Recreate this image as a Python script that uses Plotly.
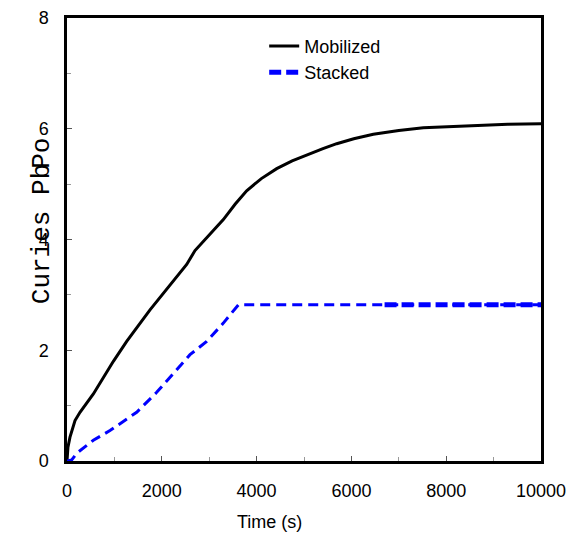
import plotly.graph_objects as go

# Mobilized curve
mob_t = [0, 20, 63, 169, 274, 556, 978, 1259, 1751, 2173, 2525, 2700, 2806, 2876,
         3100, 3298, 3550, 3790, 4100, 4424, 4750, 5056, 5400, 5690, 6050, 6462,
         7000, 7517, 8000, 8572, 9300, 10000]
mob_y = [0, 0.25, 0.43, 0.73, 0.88, 1.21, 1.80, 2.16, 2.73, 3.17, 3.55, 3.80, 3.90, 3.96,
         4.16, 4.36, 4.64, 4.88, 5.10, 5.28, 5.42, 5.53, 5.64, 5.73, 5.82, 5.90,
         5.97, 6.02, 6.04, 6.06, 6.08, 6.09]

# Stacked curve
stk_t = [0, 100, 204, 556, 907, 1470, 1892, 2243, 2595, 2947, 3298, 3615, 10000]
stk_y = [0, 0.02, 0.14, 0.375, 0.55, 0.88, 1.24, 1.57, 1.92, 2.16, 2.49, 2.82, 2.82]

# thicker dashed tail of the stacked curve
tail_t = [6700, 10000]
tail_y = [2.82, 2.82]

fig = go.Figure()

fig.add_trace(go.Scatter(
    x=mob_t, y=mob_y, mode="lines", name="Mobilized",
    line=dict(color="black", width=3),
))
fig.add_trace(go.Scatter(
    x=stk_t, y=stk_y, mode="lines", name="Stacked", showlegend=False,
    legendgroup="stk", line=dict(color="#0000ff", width=3, dash="10px,6px"),
))
fig.add_trace(go.Scatter(
    x=tail_t, y=tail_y, mode="lines", name="Stacked", legendgroup="stk",
    line=dict(color="#0000ff", width=5, dash="12px,5px"),
))

font = "Liberation Sans, Arial, sans-serif"
axis_common = dict(
    showline=True, linecolor="black", linewidth=2.5, mirror=True,
    showgrid=False, zeroline=False, automargin=False,
    ticks="inside", ticklen=5, tickcolor="#555", tickwidth=1,
    ticklabelstandoff=12, tickformat="d", ticklabeloverflow="allow",
    tickfont=dict(family=font, size=18, color="black"),
)

# the page adds an 8px body margin, so the margins are set smaller on left/top
fig.update_layout(
    template="none",
    width=580, height=539,
    margin=dict(l=59, r=47, t=10, b=86),
    paper_bgcolor="white", plot_bgcolor="white",
    xaxis=dict(range=[0, 10000], dtick=2000,
               minor=dict(dtick=1000, ticks="inside", ticklen=4, tickcolor="#999"),
               **axis_common),
    yaxis=dict(range=[0, 8], dtick=2,
               minor=dict(dtick=1, ticks="inside", ticklen=4, tickcolor="#999"),
               **axis_common),
    legend=dict(x=0.416, y=0.978, xanchor="left", yanchor="top",
                bgcolor="rgba(0,0,0,0)", font=dict(family=font, size=18, color="black"),
                tracegroupgap=0),
    showlegend=True,
)

mono = "Liberation Mono, Courier New, monospace"
fig.add_annotation(text="Time (s)", xref="paper", yref="paper", x=0.428, y=-0.164,
                   showarrow=False, font=dict(family=font, size=18, color="black"))
fig.add_annotation(text="Curies Pb", xref="paper", yref="paper", x=-0.0886, y=0.512,
                   textangle=-90, showarrow=False,
                   font=dict(family=mono, size=26, color="black"))
fig.add_annotation(text="Po", xref="paper", yref="paper", x=-0.0886, y=0.733,
                   textangle=-90, showarrow=False,
                   font=dict(family=mono, size=26, color="black"))

fig.write_html("out.html")
